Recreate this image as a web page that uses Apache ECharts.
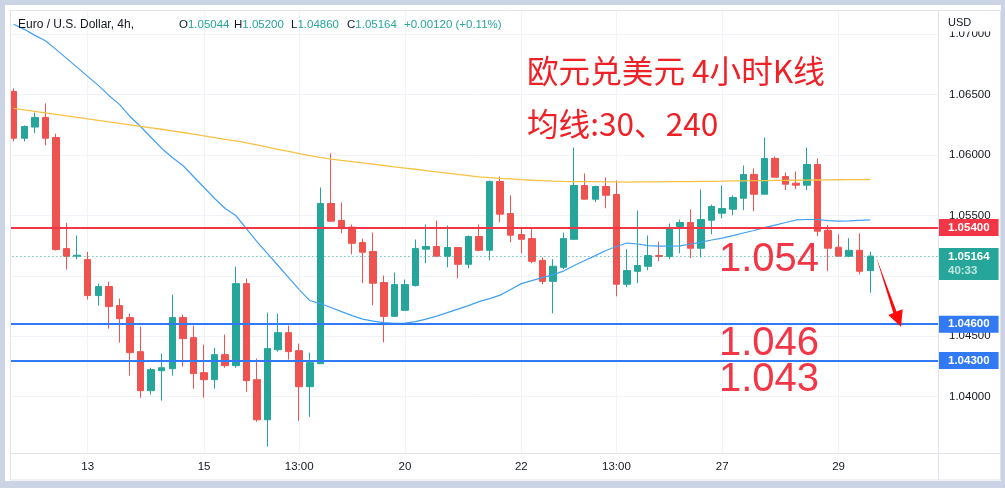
<!DOCTYPE html>
<html>
<head>
<meta charset="utf-8">
<script src="https://cdn.jsdelivr.net/npm/echarts@6/dist/echarts.min.js"></script>
<style>
html,body{margin:0;padding:0;background:#cbd4e5;}
#c{width:1005px;height:488px;}
</style>
</head>
<body>
<div id="c"></div>
<script>
// ---- data (EUR/USD 4h) ----
const open = [1.06527,1.06140,1.06232,1.06312,1.06146,1.05226,1.05163,1.05135,1.04837,1.04912,
1.04754,1.04655,1.04373,1.04050,1.04215,1.04232,1.04655,1.04489,1.04199,1.04141,
1.04348,1.04257,1.04936,1.04141,1.03809,1.04389,1.04530,1.04381,1.04083,1.04273,
1.05599,1.05458,1.05403,1.05276,1.05202,1.04945,1.04665,1.04715,1.04920,1.05221,
1.05243,1.05163,1.05235,1.05096,1.05326,1.05212,1.05782,1.05516,1.05342,1.05309,
1.05129,1.04955,1.05071,1.05303,1.05748,1.05635,1.05740,1.05674,1.04931,1.05038,
1.05080,1.05168,1.05160,1.05409,1.05442,1.05229,1.05461,1.05519,1.05552,1.05643,
1.05840,1.05676,1.05972,1.05823,1.05768,1.05751,1.05922,1.05378,1.05237,1.05163,
1.05212,1.05044];
const close = [1.06140,1.06237,1.06312,1.06140,1.05218,1.05163,1.05171,1.04837,1.04912,1.04746,
1.04646,1.04365,1.04050,1.04224,1.04240,1.04655,1.04481,1.04191,1.04141,1.04348,
1.04257,1.04936,1.04133,1.03809,1.04398,1.04530,1.04373,1.04083,1.04282,1.05599,
1.05453,1.05403,1.05270,1.05196,1.04939,1.04665,1.04928,1.04928,1.05226,1.05243,
1.05163,1.05235,1.05096,1.05326,1.05212,1.05782,1.05511,1.05337,1.05303,1.05121,
1.04955,1.05080,1.05309,1.05748,1.05635,1.05740,1.05668,1.04931,1.05044,1.05086,
1.05168,1.05160,1.05400,1.05442,1.05229,1.05467,1.05574,1.05558,1.05649,1.05840,
1.05676,1.05972,1.05817,1.05759,1.05751,1.05922,1.05370,1.05229,1.05163,1.05212,
1.05038,1.05164];
const high = [1.06552,1.06246,1.06353,1.06428,1.06177,1.05439,1.05334,1.05199,1.04936,1.04953,
1.04812,1.04688,1.04580,1.04240,1.04356,1.04845,1.04680,1.04588,1.04431,1.04406,
1.04514,1.05077,1.04978,1.04315,1.04696,1.04688,1.04588,1.04439,1.04365,1.05732,
1.06014,1.05608,1.05425,1.05309,1.05359,1.05003,1.05028,1.04970,1.05301,1.05425,
1.05458,1.05417,1.05235,1.05334,1.05425,1.05790,1.05823,1.05666,1.05395,1.05395,
1.05154,1.05138,1.05359,1.06063,1.05848,1.05748,1.05815,1.05790,1.05221,1.05541,
1.05334,1.05284,1.05434,1.05467,1.05550,1.05715,1.05591,1.05748,1.05666,1.05914,
1.05889,1.06146,1.05989,1.05856,1.05864,1.06063,1.05972,1.05420,1.05345,1.05312,
1.05353,1.05200];
const low = [1.06113,1.06113,1.06182,1.06080,1.05210,1.05052,1.05138,1.04804,1.04754,1.04564,
1.04448,1.04174,1.03992,1.04017,1.03967,1.04174,1.04249,1.04066,1.03992,1.04066,
1.04240,1.04240,1.04041,1.03793,1.03586,1.04373,1.04307,1.03801,1.03834,1.04273,
1.05450,1.05353,1.05179,1.04939,1.04757,1.04450,1.04665,1.04715,1.04912,1.05105,
1.05163,1.05071,1.04980,1.05063,1.05204,1.05129,1.05444,1.05279,1.05187,1.05105,
1.04931,1.04690,1.05055,1.05303,1.05635,1.05610,1.05560,1.04831,1.04906,1.04939,
1.05047,1.05121,1.05138,1.05187,1.05146,1.05154,1.05345,1.05477,1.05502,1.05544,
1.05535,1.05676,1.05817,1.05710,1.05718,1.05710,1.05328,1.05038,1.05163,1.05154,
1.05013,1.04860];
const ma30 = [1.07083,1.07041,1.06991,1.06946,1.06875,1.06801,1.06726,1.06652,1.06577,1.06494,
1.06420,1.06320,1.06237,1.06146,1.06055,1.05980,1.05914,1.05823,1.05732,1.05641,
1.05558,1.05500,1.05392,1.05284,1.05185,1.05086,1.04986,1.04887,1.04796,1.04771,
1.04738,1.04704,1.04671,1.04642,1.04626,1.04613,1.04607,1.04609,1.04621,1.04642,
1.04667,1.04696,1.04725,1.04754,1.04787,1.04812,1.04841,1.04887,1.04936,1.04961,
1.04986,1.05011,1.05040,1.05086,1.05127,1.05168,1.05210,1.05243,1.05272,1.05264,
1.05251,1.05247,1.05247,1.05249,1.05264,1.05280,1.05297,1.05313,1.05334,1.05355,
1.05376,1.05400,1.05421,1.05442,1.05463,1.05467,1.05467,1.05458,1.05454,1.05456,
1.05460,1.05464];
const ma240 = [1.06386,1.06374,1.06362,1.06349,1.06337,1.06325,1.06313,1.06300,1.06288,1.06275,
1.06263,1.06251,1.06238,1.06226,1.06214,1.06201,1.06187,1.06173,1.06159,1.06145,
1.06131,1.06117,1.06101,1.06084,1.06066,1.06048,1.06030,1.06012,1.05996,1.05981,
1.05967,1.05956,1.05946,1.05935,1.05925,1.05914,1.05903,1.05893,1.05883,1.05872,
1.05861,1.05851,1.05840,1.05830,1.05820,1.05814,1.05808,1.05803,1.05797,1.05792,
1.05788,1.05784,1.05782,1.05781,1.05780,1.05780,1.05779,1.05778,1.05777,1.05778,
1.05778,1.05779,1.05780,1.05780,1.05781,1.05782,1.05783,1.05784,1.05786,1.05787,
1.05788,1.05789,1.05790,1.05791,1.05792,1.05793,1.05794,1.05795,1.05796,1.05797,
1.05797,1.05798];
const emptySlots = 6;                 // empty bars on the right side
const tickIdx  = [7, 18, 27, 37, 48, 57, 67, 78];
const tickText = ['13','15','13:00','20','22','13:00','27','29'];
const resistance = 1.054;
const supports = [1.046, 1.043];
const lastPrice = 1.05164;
const countdown = '40:33';

const categories = Array.from({length: open.length + emptySlots}, (_, i) => 'bar' + i);
const kData = open.map((o, i) => [o, close[i], low[i], high[i]]);
const nulls = categories.map(() => null);

const UP = '#26a69a', DOWN = '#ef5350', BLUE = '#3179f5', RED = '#f23645';
const FONT = '"Liberation Sans", Arial, sans-serif';
const CJK = '"Noto Sans CJK SC", "Microsoft YaHei", sans-serif';

const tagLabel = (txt, bg) => ({
  show: true, position: 'end', distance: 0, formatter: txt,
  color: '#fff', backgroundColor: bg, fontSize: 11.5, fontWeight: 'bold',
  fontFamily: FONT, padding: [3, 9, 2, 9]
});

const chart = echarts.init(document.getElementById('c'), null, {renderer: 'canvas'});
chart.setOption({
  animation: false,
  backgroundColor: '#cbd4e5',
  grid: {left: 8.41, right: 66, top: 10.14, bottom: 30.9, outerBoundsMode: 'none', containLabel: false},
  xAxis: {
    type: 'category', data: categories, boundaryGap: true, z: 5,
    axisLine: {show: false}, axisTick: {show: false}, splitLine: {show: false},
    axisLabel: {
      interval: (i) => tickIdx.indexOf(i) >= 0,
      formatter: (v, i) => { const k = tickIdx.indexOf(i); return k >= 0 ? tickText[k] : ''; },
      color: '#131722', fontSize: 11.5, fontFamily: FONT, margin: 4
    }
  },
  yAxis: {
    type: 'value', position: 'right', min: 1.035, max: 1.072, interval: 0.005,
    axisLine: {show: false}, axisTick: {show: false},
    splitLine: {show: true, lineStyle: {color: '#f0f3fa', width: 1}},
    axisLabel: {
      margin: 10, color: '#131722', fontSize: 11.5, fontFamily: FONT,
      showMinLabel: false, showMaxLabel: false,
      formatter: (v) => v.toFixed(5)
    }
  },
  series: [
    {
      type: 'line', data: nulls, z: 1, silent: true, showSymbol: false,
      markLine: {
        z: 0, silent: true, precision: 5, symbol: ['none', 'none'], label: {show: false},
        lineStyle: {color: '#f0f3fa', width: 1, type: 'solid'},
        data: tickIdx.map(i => [{coord: [i, 1.072]}, {coord: [i, 1.03534]}])
      }
    },
    {
      name: 'K', type: 'candlestick', data: kData, z: 2, barWidth: 7, clip: false,
      itemStyle: {color: UP, color0: DOWN, borderColor: UP, borderColor0: DOWN, borderWidth: 1}
    },
    {
      name: 'MA30', type: 'line', data: ma30, z: 3, showSymbol: false, smooth: false,
      lineStyle: {color: '#42a0f2', width: 1.2}, silent: true
    },
    {
      name: 'MA240', type: 'line', data: ma240, z: 3, showSymbol: false, smooth: false,
      lineStyle: {color: '#f7c244', width: 1.3}, silent: true
    },
    {
      type: 'line', data: nulls, z: 5, silent: true, showSymbol: false,
      markLine: {
        z: 5, silent: true, precision: 5, symbol: ['none', 'none'],
        data: [
          {yAxis: lastPrice, lineStyle: {color: UP, width: 1, type: [1, 3]},
           label: Object.assign(tagLabel('{a|' + lastPrice.toFixed(5) + '}\n{b|' + countdown + '}', UP), {
             padding: [2, 9, 2, 9], offset: [0, 8],
             rich: {a: {color: '#fff', fontSize: 11.5, fontWeight: 'bold', fontFamily: FONT, lineHeight: 14},
                    b: {color: '#bfe6e1', fontSize: 11.5, fontFamily: FONT, lineHeight: 14}}
           })},
          {yAxis: resistance, lineStyle: {color: RED, width: 2, type: 'solid'},
           label: tagLabel(resistance.toFixed(5), RED)},
          {yAxis: supports[0], lineStyle: {color: BLUE, width: 2, type: 'solid'},
           label: tagLabel(supports[0].toFixed(5), BLUE)},
          {yAxis: supports[1], lineStyle: {color: BLUE, width: 2, type: 'solid'},
           label: tagLabel(supports[1].toFixed(5), BLUE)}
        ]
      }
    }
  ],
  graphic: [
    {type: 'rect', z: -10, silent: true, shape: {x: 5, y: 5, width: 996, height: 476}, style: {fill: '#ffffff'}},
    {type: 'rect', z: 49, silent: true, shape: {x: 5, y: 5, width: 5, height: 476}, style: {fill: '#ffffff'}},
    {type: 'rect', z: 3, silent: true, shape: {x: 10, y: 454, width: 928, height: 26}, style: {fill: '#ffffff'}},
    {type: 'rect', z: 49, silent: true, shape: {x: 939, y: 11, width: 61, height: 20.5}, style: {fill: '#ffffff'}},
    {type: 'rect', z: 50, silent: true, shape: {x: 10.5, y: 10.5, width: 990, height: 469.5}, style: {fill: null, stroke: '#e0e3eb', lineWidth: 1}},
    {type: 'line', z: 50, silent: true, shape: {x1: 938.5, y1: 10, x2: 938.5, y2: 480}, style: {stroke: '#e0e3eb', lineWidth: 1}},
    {type: 'line', z: 50, silent: true, shape: {x1: 10, y1: 453.5, x2: 1000, y2: 453.5}, style: {stroke: '#e0e3eb', lineWidth: 1}},
    {type: 'text', z: 51, silent: true, style: {x: 948, y: 23, text: 'USD', fill: '#131722', font: '11px ' + FONT, verticalAlign: 'middle'}},
    {type: 'text', z: 51, silent: true, style: {x: 18, y: 24.5, text: 'Euro / U.S. Dollar, 4h,', fill: '#131722', font: '12px ' + FONT, verticalAlign: 'middle'}},
    {type: 'text', z: 51, silent: true, style: {x: 179, y: 24.5, text: '{k|O}{v|1.05044}', font: '11.5px ' + FONT, verticalAlign: 'middle',
      rich: {k: {fill: '#131722', color: '#131722', font: '11.5px ' + FONT}, v: {fill: UP, color: UP, font: '11.5px ' + FONT}}}},
    {type: 'text', z: 51, silent: true, style: {x: 234, y: 24.5, text: '{k|H}{v|1.05200}', font: '11.5px ' + FONT, verticalAlign: 'middle',
      rich: {k: {fill: '#131722', color: '#131722', font: '11.5px ' + FONT}, v: {fill: UP, color: UP, font: '11.5px ' + FONT}}}},
    {type: 'text', z: 51, silent: true, style: {x: 291, y: 24.5, text: '{k|L}{v|1.04860}', font: '11.5px ' + FONT, verticalAlign: 'middle',
      rich: {k: {fill: '#131722', color: '#131722', font: '11.5px ' + FONT}, v: {fill: UP, color: UP, font: '11.5px ' + FONT}}}},
    {type: 'text', z: 51, silent: true, style: {x: 347, y: 24.5, text: '{k|C}{v|1.05164}', font: '11.5px ' + FONT, verticalAlign: 'middle',
      rich: {k: {fill: '#131722', color: '#131722', font: '11.5px ' + FONT}, v: {fill: UP, color: UP, font: '11.5px ' + FONT}}}},
    {type: 'text', z: 51, silent: true, style: {x: 404, y: 24.5, text: '+0.00120 (+0.11%)', fill: UP, font: '11.5px ' + FONT, verticalAlign: 'middle'}},
    {type: 'text', z: 10, silent: true, style: {x: 527, y: 71, text: '欧元兑美元 4小时K线', fill: '#ee2127', font: '31.6px ' + CJK, verticalAlign: 'middle'}},
    {type: 'text', z: 10, silent: true, style: {x: 527, y: 123.5, text: '均线:30、240', fill: '#ee2127', font: '31.6px ' + CJK, verticalAlign: 'middle'}},
    {type: 'text', z: 10, silent: true, style: {x: 719, y: 260, text: '1.054', fill: RED, font: '40px ' + FONT, verticalAlign: 'middle'}},
    {type: 'text', z: 10, silent: true, style: {x: 719, y: 343.5, text: '1.046', fill: RED, font: '40px ' + FONT, verticalAlign: 'middle'}},
    {type: 'text', z: 10, silent: true, style: {x: 719, y: 379.5, text: '1.043', fill: RED, font: '40px ' + FONT, verticalAlign: 'middle'}},
    {type: 'polygon', z: 10, silent: true,
      shape: {points: [[876, 256.5], [896.5, 311.5], [902.7, 309.3], [901, 326.7], [888.3, 315], [893.3, 313]]},
      style: {fill: '#ff0a0a'}}
  ]
});
</script>
</body>
</html>
